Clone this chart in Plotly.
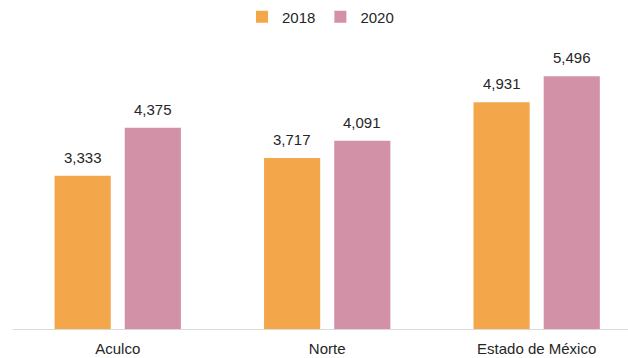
import plotly.graph_objects as go

categories = ["Aculco", "Norte", "Estado de México"]
values_2018 = [3333, 3717, 4931]
values_2020 = [4375, 4091, 5496]
series_names = ["2018", "2020"]
colors = ["#F4A64A", "#D291A6"]

FONT = "Liberation Sans, Arial"

fig = go.Figure()
for name, vals, col in zip(series_names, [values_2018, values_2020], colors):
    fig.add_trace(go.Bar(x=categories, y=vals, name=name, marker_color=col,
                         marker_line_width=0))

# value labels above each bar
for shift, vals in zip([-35, 35], [values_2018, values_2020]):
    for c, v in zip(categories, vals):
        fig.add_annotation(x=c, y=v, text=f"{v:,}", showarrow=False,
                           xref="x", yref="y", yanchor="bottom", xshift=shift,
                           yshift=8, font=dict(size=15, color="#262626",
                                               family=FONT))

fig.update_layout(
    width=628, height=358,
    margin=dict(l=13, r=0, t=53, b=29),
    plot_bgcolor="white", paper_bgcolor="white",
    barmode="group", bargap=0.33, bargroupgap=0.2,
    font=dict(family=FONT, size=15, color="#262626"),
    showlegend=True,
    legend=dict(orientation="h", x=0.5, xanchor="center", y=1.13,
                yanchor="middle", font=dict(size=15), itemwidth=30,
                tracegroupgap=0),
    xaxis=dict(range=[-0.5, 2.436], showline=True, linecolor="#D9D9D9",
               linewidth=1, ticks="outside", ticklen=6,
               tickcolor="rgba(0,0,0,0)", showgrid=False,
               tickfont=dict(size=15, color="#262626")),
    yaxis=dict(range=[0, 6000], visible=False, showgrid=False),
)

fig.write_html("out.html")
